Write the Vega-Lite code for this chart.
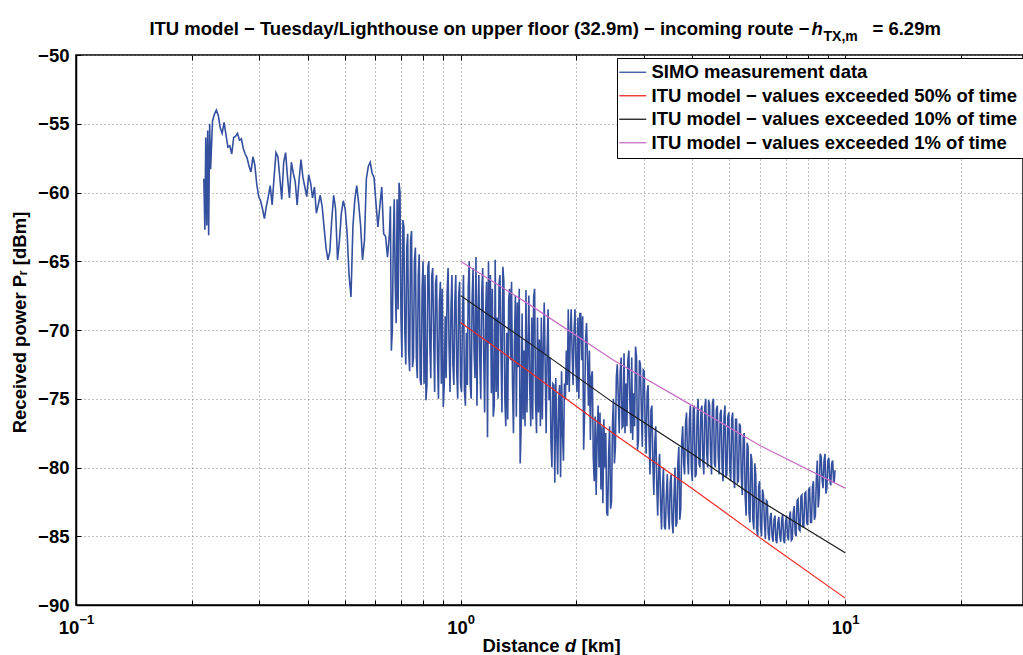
{
  "$schema": "https://vega.github.io/schema/vega-lite/v6.json",
  "width": 947,
  "height": 550,
  "autosize": {"type": "none"},
  "padding": {"left": 76, "top": 55, "right": 0, "bottom": 50},
  "background": "white",
  "config": {
    "view": {"stroke": "black", "strokeWidth": 1.5},
    "font": "Liberation Sans",
    "axis": {
      "labelFont": "Liberation Sans", "titleFont": "Liberation Sans",
      "labelColor": "black", "titleColor": "black",
      "labelFontWeight": "bold", "titleFontWeight": "bold",
      "labelFontSize": 18.5, "titleFontSize": 18.5,
      "domain": false, "ticks": false, "grid": false, "labels": false,
      "labelFlush": false, "labelOverlap": false, "tickColor": "black", "tickWidth": 1
    }
  },
  "datasets": {
    "simo": [
      {"d":0.2150,"P":-59.0},{"d":0.2163,"P":-62.7},{"d":0.2175,"P":-56.0},{"d":0.2188,"P":-62.4},{"d":0.2200,"P":-55.5},{"d":0.2213,"P":-63.1},{"d":0.2226,"P":-55.0},{"d":0.2239,"P":-58.3},
      {"d":0.22646,"P":-54.8},{"d":0.22909,"P":-54.3},{"d":0.23174,"P":-54.0},{"d":0.23442,"P":-54.4},{"d":0.23713,"P":-55.3},{"d":0.23988,"P":-55.7},{"d":0.24266,"P":-54.9},{"d":0.24547,"P":-55.8},{"d":0.24831,"P":-56.7},{"d":0.25119,"P":-56.6},
      {"d":0.25410,"P":-57.2},{"d":0.25704,"P":-56.0},{"d":0.26002,"P":-55.9},{"d":0.26303,"P":-55.7},{"d":0.26608,"P":-56.2},{"d":0.26915,"P":-56.1},{"d":0.27227,"P":-56.8},{"d":0.27542,"P":-57.2},{"d":0.27861,"P":-57.5},{"d":0.28184,"P":-58.1},
      {"d":0.28510,"P":-58.5},{"d":0.28840,"P":-57.4},{"d":0.29174,"P":-58.0},{"d":0.29512,"P":-59.4},{"d":0.29854,"P":-60.3},{"d":0.30200,"P":-60.6},{"d":0.30550,"P":-61.2},{"d":0.30903,"P":-61.9},{"d":0.31261,"P":-61.0},{"d":0.31623,"P":-60.3},
      {"d":0.31989,"P":-59.5},{"d":0.32359,"P":-60.9},{"d":0.32734,"P":-58.9},{"d":0.33113,"P":-57.1},{"d":0.33496,"P":-57.4},{"d":0.33884,"P":-58.9},{"d":0.34276,"P":-60.5},{"d":0.34674,"P":-57.8},{"d":0.35075,"P":-57.1},{"d":0.35481,"P":-58.9},
      {"d":0.35892,"P":-60.4},{"d":0.36308,"P":-57.8},{"d":0.36728,"P":-58.6},{"d":0.37154,"P":-59.2},{"d":0.37584,"P":-60.9},{"d":0.38019,"P":-59.1},{"d":0.38459,"P":-57.6},{"d":0.38905,"P":-58.9},{"d":0.39356,"P":-59.6},{"d":0.39811,"P":-60.3},
      {"d":0.40272,"P":-58.7},{"d":0.40738,"P":-59.3},{"d":0.41210,"P":-60.4},{"d":0.41687,"P":-59.6},{"d":0.42170,"P":-61.5},{"d":0.42658,"P":-60.9},{"d":0.43152,"P":-60.2},{"d":0.43652,"P":-61.0},{"d":0.44157,"P":-62.5},{"d":0.44668,"P":-64.0},
      {"d":0.45185,"P":-64.9},{"d":0.45709,"P":-64.3},{"d":0.46238,"P":-62.0},{"d":0.46774,"P":-60.2},{"d":0.47316,"P":-61.2},{"d":0.47863,"P":-64.9},{"d":0.48417,"P":-63.5},{"d":0.48978,"P":-61.5},{"d":0.49545,"P":-60.6},{"d":0.50119,"P":-61.2},
      {"d":0.50699,"P":-63.0},{"d":0.51286,"P":-66.0},{"d":0.51880,"P":-67.6},{"d":0.52481,"P":-62.5},{"d":0.53089,"P":-60.5},{"d":0.53703,"P":-59.5},{"d":0.54325,"P":-60.8},{"d":0.54954,"P":-62.4},{"d":0.55590,"P":-64.9},{"d":0.56234,"P":-63.5},
      {"d":0.56885,"P":-59.0},{"d":0.57544,"P":-58.1},{"d":0.58210,"P":-57.8},{"d":0.58884,"P":-58.6},{"d":0.59566,"P":-58.9},{"d":0.60256,"P":-60.8},{"d":0.60954,"P":-62.5},{"d":0.61660,"P":-61.0},{"d":0.62374,"P":-59.6},{"d":0.63096,"P":-63.0},
      {"d":0.63827,"P":-63.2},{"d":0.64565,"P":-64.7},{"d":0.65313,"P":-63.0},
      {"d":0.6569,"P":-61.0},{"d":0.66069,"P":-71.5},{"d":0.6645,"P":-70.0},{"d":0.66834,"P":-63.7},{"d":0.6722,"P":-60.5},{"d":0.67608,"P":-66.5},{"d":0.6800,"P":-69.5},{"d":0.68391,"P":-60.5},{"d":0.6879,"P":-68.5},{"d":0.69183,"P":-59.3},{"d":0.6958,"P":-60.0},
      {"d":0.69984,"P":-69.1},{"d":0.7039,"P":-72.0},{"d":0.70795,"P":-62.0},{"d":0.7121,"P":-62.5},{"d":0.71615,"P":-70.2},{"d":0.7203,"P":-72.5},{"d":0.72444,"P":-64.0},{"d":0.7286,"P":-63.0},{"d":0.73283,"P":-71.5},{"d":0.7371,"P":-73.0},
      {"d":0.74131,"P":-63.5},{"d":0.7456,"P":-62.8},{"d":0.74989,"P":-72.7},{"d":0.7542,"P":-72.0},{"d":0.75858,"P":-65.0},{"d":0.7630,"P":-64.0},{"d":0.76736,"P":-72.0},{"d":0.7718,"P":-73.5},{"d":0.77625,"P":-66.0},{"d":0.7807,"P":-64.5},
      {"d":0.78524,"P":-73.6},{"d":0.7898,"P":-74.0},{"d":0.79433,"P":-67.0},{"d":0.7989,"P":-65.0},{"d":0.80353,"P":-73.9},{"d":0.8082,"P":-66.0},{"d":0.81283,"P":-75.1},{"d":0.8175,"P":-74.0},{"d":0.82224,"P":-65.4},{"d":0.8270,"P":-65.0},
      {"d":0.83176,"P":-71.0},{"d":0.8366,"P":-73.5},{"d":0.84139,"P":-66.1},{"d":0.8463,"P":-65.5},{"d":0.85114,"P":-70.5},{"d":0.8561,"P":-74.5},{"d":0.86100,"P":-66.6},{"d":0.8660,"P":-66.0},{"d":0.87096,"P":-72.0},{"d":0.8760,"P":-75.0},
      {"d":0.88105,"P":-68.0},{"d":0.8862,"P":-66.5},{"d":0.89125,"P":-73.9},{"d":0.8964,"P":-67.0},{"d":0.90157,"P":-75.6},{"d":0.9068,"P":-74.0},{"d":0.91201,"P":-69.0},{"d":0.9173,"P":-73.5},{"d":0.92257,"P":-67.3},{"d":0.9279,"P":-65.5},
      {"d":0.93325,"P":-71.0},{"d":0.9387,"P":-74.5},{"d":0.94406,"P":-68.5},{"d":0.9495,"P":-66.0},{"d":0.95499,"P":-72.5},{"d":0.9605,"P":-74.0},{"d":0.96605,"P":-68.0},{"d":0.9716,"P":-66.0},{"d":0.97724,"P":-73.0},{"d":0.9829,"P":-75.0},
      {"d":0.98856,"P":-67.5},{"d":0.9943,"P":-66.5},{"d":1.0,"P":-73.9},{"d":1.0058,"P":-74.5},{"d":1.0116,"P":-69.0},{"d":1.0175,"P":-66.0},{"d":1.0233,"P":-74.4},{"d":1.0293,"P":-75.5},{"d":1.0352,"P":-70.2},{"d":1.0412,"P":-74.0},
      {"d":1.0471,"P":-66.9},{"d":1.0532,"P":-65.0},{"d":1.0592,"P":-73.9},{"d":1.0654,"P":-75.0},{"d":1.0715,"P":-67.8},{"d":1.0777,"P":-65.5},{"d":1.0839,"P":-71.5},{"d":1.0902,"P":-73.5},{"d":1.0965,"P":-64.7},{"d":1.1029,"P":-75.5},
      {"d":1.1092,"P":-69.0},{"d":1.1156,"P":-66.0},{"d":1.1220,"P":-72.2},{"d":1.1285,"P":-75.0},{"d":1.1350,"P":-67.3},{"d":1.1416,"P":-65.5},{"d":1.1482,"P":-71.5},{"d":1.1549,"P":-76.0},{"d":1.1615,"P":-69.0},{"d":1.1682,"P":-66.5},
      {"d":1.1749,"P":-77.8},{"d":1.1817,"P":-65.0},{"d":1.1885,"P":-71.0},{"d":1.1954,"P":-66.0},{"d":1.2023,"P":-74.6},{"d":1.2093,"P":-67.0},{"d":1.2162,"P":-76.3},{"d":1.2233,"P":-75.5},{"d":1.2303,"P":-64.9},{"d":1.2374,"P":-74.5},
      {"d":1.2445,"P":-69.1},{"d":1.2517,"P":-75.0},{"d":1.2589,"P":-66.6},{"d":1.2662,"P":-66.0},{"d":1.2735,"P":-71.5},{"d":1.2809,"P":-76.0},{"d":1.2882,"P":-65.4},{"d":1.2957,"P":-66.5},{"d":1.3031,"P":-74.9},{"d":1.3107,"P":-77.0},
      {"d":1.3183,"P":-70.2},{"d":1.3260,"P":-76.5},{"d":1.3336,"P":-67.8},{"d":1.3413,"P":-67.0},{"d":1.3490,"P":-72.2},{"d":1.3568,"P":-66.5},{"d":1.3646,"P":-73.9},{"d":1.3725,"P":-77.5},{"d":1.3804,"P":-70.9},{"d":1.3884,"P":-67.5},
      {"d":1.3964,"P":-76.3},{"d":1.4045,"P":-68.0},{"d":1.4125,"P":-72.7},{"d":1.4207,"P":-67.0},{"d":1.4289,"P":-79.7},{"d":1.4372,"P":-77.0},{"d":1.4454,"P":-68.8},{"d":1.4538,"P":-76.5},{"d":1.4621,"P":-71.5},{"d":1.4706,"P":-77.0},
      {"d":1.4791,"P":-67.1},{"d":1.4877,"P":-76.0},{"d":1.4962,"P":-71.5},{"d":1.5049,"P":-67.5},{"d":1.5136,"P":-74.4},{"d":1.5224,"P":-77.0},{"d":1.5311,"P":-69.1},{"d":1.5400,"P":-76.5},{"d":1.5488,"P":-67.6},{"d":1.5578,"P":-67.0},
      {"d":1.5667,"P":-75.3},{"d":1.5758,"P":-77.5},{"d":1.5849,"P":-69.1},{"d":1.5941,"P":-76.0},{"d":1.6033,"P":-70.7},{"d":1.6126,"P":-77.0},{"d":1.6218,"P":-69.1},{"d":1.6312,"P":-76.5},{"d":1.6406,"P":-71.5},{"d":1.6501,"P":-68.0},
      {"d":1.6596,"P":-72.7},{"d":1.6692,"P":-77.5},{"d":1.6788,"P":-71.5},{"d":1.6885,"P":-68.5},{"d":1.6982,"P":-75.1},{"d":1.7081,"P":-72.0},{"d":1.7179,"P":-78.2},{"d":1.7279,"P":-80.0},{"d":1.7378,"P":-73.9},{"d":1.7479,"P":-74.0},
      {"d":1.7579,"P":-81.1},{"d":1.7681,"P":-73.5},{"d":1.7783,"P":-77.5},{"d":1.7886,"P":-80.5},{"d":1.7989,"P":-75.1},{"d":1.8093,"P":-74.0},{"d":1.8197,"P":-80.7},{"d":1.8303,"P":-73.0},{"d":1.8408,"P":-77.5},{"d":1.8515,"P":-79.5},
      {"d":1.8621,"P":-73.9},{"d":1.8729,"P":-75.0},{"d":1.8837,"P":-71.5},{"d":1.8946,"P":-74.0},{"d":1.9055,"P":-68.5},{"d":1.9166,"P":-74.5},{"d":1.9276,"P":-70.5},{"d":1.9387,"P":-68.5},{"d":1.9498,"P":-71.5},{"d":1.9611,"P":-74.0},
      {"d":1.9724,"P":-70.2},{"d":1.9839,"P":-68.5},{"d":1.9953,"P":-72.7},{"d":2.0069,"P":-74.5},{"d":2.0184,"P":-69.1},{"d":2.0301,"P":-75.0},{"d":2.0417,"P":-68.8},{"d":2.0535,"P":-68.8},{"d":2.0653,"P":-72.2},{"d":2.0773,"P":-69.0},
      {"d":2.0893,"P":-78.7},{"d":2.1014,"P":-76.0},{"d":2.1135,"P":-70.7},{"d":2.1258,"P":-69.5},{"d":2.1380,"P":-72.2},{"d":2.1504,"P":-75.5},{"d":2.1628,"P":-71.5},{"d":2.1753,"P":-78.0},{"d":2.1878,"P":-73.4},{"d":2.2005,"P":-73.0},
      {"d":2.2131,"P":-79.2},{"d":2.2259,"P":-81.0},{"d":2.2387,"P":-76.3},{"d":2.2518,"P":-82.0},{"d":2.2646,"P":-77.8},{"d":2.2778,"P":-75.5},{"d":2.2909,"P":-80.0},{"d":2.3042,"P":-76.0},{"d":2.3174,"P":-81.6},{"d":2.3308,"P":-77.0},
      {"d":2.3442,"P":-82.6},{"d":2.3578,"P":-76.5},{"d":2.3713,"P":-80.0},{"d":2.3851,"P":-77.5},{"d":2.3988,"P":-83.3},{"d":2.4127,"P":-83.5},{"d":2.4266,"P":-79.0},{"d":2.4407,"P":-77.0},{"d":2.4547,"P":-83.0},{"d":2.4689,"P":-82.5},
      {"d":2.4831,"P":-76.8},{"d":2.4975,"P":-75.0},{"d":2.5119,"P":-79.7},{"d":2.5265,"P":-78.5},{"d":2.5410,"P":-73.4},{"d":2.5557,"P":-72.5},{"d":2.5704,"P":-74.9},{"d":2.5853,"P":-77.5},{"d":2.6002,"P":-73.1},{"d":2.6153,"P":-72.0},
      {"d":2.6303,"P":-77.1},{"d":2.6456,"P":-77.0},{"d":2.6608,"P":-71.7},{"d":2.6762,"P":-77.5},{"d":2.6915,"P":-73.9},{"d":2.7071,"P":-77.0},{"d":2.7227,"P":-72.2},{"d":2.7385,"P":-71.5},{"d":2.7542,"P":-75.1},{"d":2.7702,"P":-77.5},
      {"d":2.7861,"P":-72.0},{"d":2.8023,"P":-78.0},{"d":2.8184,"P":-74.6},{"d":2.8347,"P":-77.0},{"d":2.8510,"P":-71.2},{"d":2.8675,"P":-72.0},{"d":2.8840,"P":-78.7},{"d":2.9007,"P":-78.0},{"d":2.9174,"P":-72.2},{"d":2.9343,"P":-72.5},
      {"d":2.9512,"P":-75.8},{"d":2.9683,"P":-78.5},{"d":2.9854,"P":-72.9},{"d":3.0027,"P":-73.0},{"d":3.0200,"P":-77.1},{"d":3.0375,"P":-79.0},{"d":3.0550,"P":-74.6},{"d":3.0727,"P":-74.0},{"d":3.0903,"P":-77.8},{"d":3.1082,"P":-80.5},
      {"d":3.1261,"P":-75.8},{"d":3.1442,"P":-75.5},{"d":3.1623,"P":-79.7},{"d":3.1806,"P":-82.0},{"d":3.1989,"P":-78.2},{"d":3.2174,"P":-77.0},{"d":3.2359,"P":-81.1},{"d":3.2547,"P":-83.5},{"d":3.2734,"P":-80.2},{"d":3.2924,"P":-79.0},
      {"d":3.3113,"P":-82.6},{"d":3.3305,"P":-84.5},{"d":3.3496,"P":-81.4},{"d":3.3690,"P":-80.0},{"d":3.3884,"P":-84.3},{"d":3.4080,"P":-84.5},{"d":3.4276,"P":-82.1},{"d":3.4475,"P":-80.5},{"d":3.4674,"P":-83.3},{"d":3.4875,"P":-84.5},
      {"d":3.5075,"P":-81.1},{"d":3.5278,"P":-80.5},{"d":3.5481,"P":-84.0},{"d":3.5687,"P":-84.8},{"d":3.5892,"P":-82.1},{"d":3.6100,"P":-80.0},{"d":3.6308,"P":-84.3},{"d":3.6518,"P":-84.0},{"d":3.6728,"P":-79.7},{"d":3.6941,"P":-78.5},
      {"d":3.7154,"P":-83.8},{"d":3.7369,"P":-83.0},{"d":3.7584,"P":-78.2},{"d":3.7802,"P":-77.0},{"d":3.8019,"P":-79.7},{"d":3.8239,"P":-80.5},{"d":3.8459,"P":-76.8},{"d":3.8682,"P":-76.0},{"d":3.8905,"P":-79.2},{"d":3.9131,"P":-80.5},
      {"d":3.9356,"P":-76.5},{"d":3.9584,"P":-75.5},{"d":3.9811,"P":-80.0},{"d":4.0042,"P":-81.0},{"d":4.0272,"P":-75.8},{"d":4.0505,"P":-75.5},{"d":4.0738,"P":-80.7},{"d":4.0974,"P":-80.5},{"d":4.1210,"P":-76.3},{"d":4.1449,"P":-75.0},
      {"d":4.1687,"P":-79.7},{"d":4.1929,"P":-80.0},{"d":4.2170,"P":-75.8},{"d":4.2414,"P":-75.5},{"d":4.2658,"P":-79.5},{"d":4.2905,"P":-80.5},{"d":4.3152,"P":-75.6},{"d":4.3402,"P":-75.0},{"d":4.3652,"P":-79.0},{"d":4.3905,"P":-80.0},
      {"d":4.4157,"P":-75.1},{"d":4.4413,"P":-75.5},{"d":4.4668,"P":-79.0},{"d":4.4927,"P":-80.5},{"d":4.5185,"P":-75.3},{"d":4.5447,"P":-75.0},{"d":4.5709,"P":-79.7},{"d":4.5974,"P":-80.0},{"d":4.6238,"P":-75.8},{"d":4.6506,"P":-75.5},
      {"d":4.6774,"P":-79.2},{"d":4.7045,"P":-80.5},{"d":4.7316,"P":-76.1},{"d":4.7590,"P":-75.8},{"d":4.7863,"P":-80.0},{"d":4.8140,"P":-81.0},{"d":4.8417,"P":-76.3},{"d":4.8698,"P":-75.5},{"d":4.8978,"P":-80.7},{"d":4.9262,"P":-80.5},
      {"d":4.9545,"P":-76.3},{"d":4.9832,"P":-76.0},{"d":5.0119,"P":-80.2},{"d":5.0409,"P":-81.0},{"d":5.0699,"P":-76.5},{"d":5.0993,"P":-76.0},{"d":5.1286,"P":-80.7},{"d":5.1583,"P":-81.5},{"d":5.1880,"P":-76.5},{"d":5.2181,"P":-76.5},
      {"d":5.2481,"P":-81.1},{"d":5.2785,"P":-81.0},{"d":5.3089,"P":-76.8},{"d":5.3396,"P":-77.0},{"d":5.3703,"P":-80.7},{"d":5.4014,"P":-82.0},{"d":5.4325,"P":-77.8},{"d":5.4640,"P":-77.5},{"d":5.4954,"P":-82.1},{"d":5.5272,"P":-83.5},
      {"d":5.5590,"P":-78.2},{"d":5.5912,"P":-78.5},{"d":5.6234,"P":-83.3},{"d":5.6560,"P":-84.0},{"d":5.6885,"P":-79.0},{"d":5.7215,"P":-79.5},{"d":5.7544,"P":-83.8},{"d":5.7877,"P":-84.5},{"d":5.8210,"P":-79.7},{"d":5.8547,"P":-80.5},
      {"d":5.8884,"P":-84.5},{"d":5.9225,"P":-85.0},{"d":5.9566,"P":-81.4},{"d":5.9911,"P":-81.0},{"d":6.0256,"P":-84.3},{"d":6.0605,"P":-85.0},{"d":6.0954,"P":-81.6},{"d":6.1307,"P":-82.0},{"d":6.1660,"P":-84.0},{"d":6.2017,"P":-85.2},
      {"d":6.2374,"P":-82.4},{"d":6.2735,"P":-82.5},{"d":6.3096,"P":-84.8},{"d":6.3462,"P":-85.3},{"d":6.3827,"P":-83.6},{"d":6.4196,"P":-83.3},{"d":6.4565,"P":-85.0},{"d":6.4939,"P":-85.4},{"d":6.5313,"P":-83.8},{"d":6.5691,"P":-83.5},
      {"d":6.6069,"P":-85.3},{"d":6.6452,"P":-85.5},{"d":6.6834,"P":-84.0},{"d":6.7221,"P":-83.6},{"d":6.7608,"P":-85.0},{"d":6.8000,"P":-85.4},{"d":6.8391,"P":-83.8},{"d":6.8787,"P":-83.4},{"d":6.9183,"P":-85.3},{"d":6.9584,"P":-85.5},
      {"d":6.9984,"P":-84.0},{"d":7.0390,"P":-83.5},{"d":7.0795,"P":-85.0},{"d":7.1205,"P":-85.3},{"d":7.1615,"P":-83.6},{"d":7.2030,"P":-83.2},{"d":7.2444,"P":-85.3},{"d":7.2864,"P":-85.2},{"d":7.3283,"P":-83.3},{"d":7.3707,"P":-82.8},
      {"d":7.4131,"P":-84.8},{"d":7.4560,"P":-85.0},{"d":7.4989,"P":-82.4},{"d":7.5424,"P":-82.3},{"d":7.5858,"P":-84.5},{"d":7.6297,"P":-84.6},{"d":7.6736,"P":-82.1},{"d":7.7181,"P":-82.0},{"d":7.7625,"P":-84.3},{"d":7.8075,"P":-84.3},
      {"d":7.8524,"P":-81.9},{"d":7.8979,"P":-81.8},{"d":7.9433,"P":-84.0},{"d":7.9893,"P":-84.2},{"d":8.0353,"P":-81.6},{"d":8.0818,"P":-81.5},{"d":8.1283,"P":-84.0},{"d":8.1754,"P":-84.0},{"d":8.2224,"P":-81.4},{"d":8.2700,"P":-81.0},
      {"d":8.3176,"P":-83.8},{"d":8.3658,"P":-83.5},{"d":8.4139,"P":-80.9},{"d":8.4627,"P":-79.5},{"d":8.5114,"P":-82.9},{"d":8.5607,"P":-82.0},{"d":8.6100,"P":-79.0},{"d":8.6598,"P":-79.2},{"d":8.7096,"P":-80.9},{"d":8.7601,"P":-81.5},
      {"d":8.8105,"P":-79.5},{"d":8.8615,"P":-79.0},{"d":8.9125,"P":-81.9},{"d":8.9641,"P":-81.5},{"d":9.0157,"P":-79.5},{"d":9.0679,"P":-79.3},{"d":9.1201,"P":-80.9},{"d":9.1729,"P":-81.3},{"d":9.2257,"P":-79.7},{"d":9.2791,"P":-79.5},
      {"d":9.3325,"P":-81.1},{"d":9.370,"P":-81.0},{"d":9.408,"P":-80.2}
    ],
    "p50": [{"d":1,"P":-69.45},{"d":1.5,"P":-72.98},{"d":2.5,"P":-77.55},{"d":4,"P":-81.52},{"d":6,"P":-85.1},{"d":10,"P":-89.5}],
    "p10": [{"d":1,"P":-67.5},{"d":1.5,"P":-70.9},{"d":2.5,"P":-75.3},{"d":4,"P":-79.0},{"d":6,"P":-82.4},{"d":10,"P":-86.2}],
    "p1": [{"d":1,"P":-65.0},{"d":1.5,"P":-68.1},{"d":2.5,"P":-72.2},{"d":4,"P":-75.5},{"d":6,"P":-78.4},{"d":10,"P":-81.5}]
  },
  "layer": [
    {
      "data": {"name": "simo"},
      "mark": {"type": "line", "strokeWidth": 1.6, "clip": true},
      "encoding": {
        "x": {
          "field": "d", "type": "quantitative",
          "scale": {"type": "log", "domain": [0.1, 29], "nice": false},
          "axis": {
            "orient": "bottom", "labels": true, "grid": true,
            "gridColor": "#808080", "gridDash": [1, 3], "gridWidth": 1,
            "domain": true, "domainColor": "black", "domainWidth": 1.5,
            "values": [0.1,0.2,0.3,0.4,0.5,0.6,0.7,0.8,0.9,1,2,3,4,5,6,7,8,9,10,20],
            "labelExpr": "(datum.value == 0.1 || datum.value == 1 || datum.value == 10) ? '10' : ''",
            "labelAlign": "center", "labelBaseline": "alphabetic", "labelPadding": 28.6,
            "labelOffset": {"condition": {"test": "datum.value < 0.5", "value": -7.4}, "value": -3.6},
            "title": "Distance", "titleX": 406, "titleY": 46, "titleAlign": "left", "titleBaseline": "alphabetic"
          }
        },
        "y": {
          "field": "P", "type": "quantitative",
          "scale": {"domain": [-90, -50], "nice": false, "zero": false},
          "axis": {
            "orient": "left", "labels": true, "grid": true,
            "gridColor": "#808080", "gridDash": [1, 3], "gridWidth": 1,
            "domain": true, "domainColor": "black", "domainWidth": 1.5,
            "values": [-90,-85,-80,-75,-70,-65,-60,-55,-50], "format": "d",
            "labelPadding": 7, "labelAlign": "right", "labelBaseline": "middle",
            "title": "Received power Pᵣ [dBm]", "titleX": -51, "titleY": 267, "titleAngle": -90,
            "titleAlign": "center", "titleBaseline": "alphabetic"
          }
        },
        "color": {
          "datum": "SIMO measurement data", "type": "nominal",
          "scale": {
            "domain": ["SIMO measurement data", "ITU model − values exceeded 50% of time", "ITU model − values exceeded 10% of time", "ITU model − values exceeded 1% of time"],
            "range": ["#34509f", "#ee2a24", "#1a1a1a", "#c76cc5"]
          },
          "legend": {
            "orient": "none", "legendX": 541, "legendY": 3, "title": null,
            "fillColor": "white", "strokeColor": "black", "padding": 5, "cornerRadius": 0,
            "symbolType": "M-3,0H3.75", "symbolSize": 64, "symbolStrokeWidth": 1.3,
            "labelOffset": 11, "labelFont": "Liberation Sans", "labelFontSize": 18.5,
            "labelFontWeight": "bold", "labelColor": "black", "labelLimit": 600, "rowPadding": 4.5
          }
        }
      }
    },
    {
      "data": {"name": "p50"},
      "mark": {"type": "line", "strokeWidth": 1.2},
      "encoding": {
        "x": {
          "field": "d", "type": "quantitative",
          "axis": {
            "orient": "bottom", "labels": true, "values": [0.1, 1, 10],
            "labelExpr": "datum.value == 0.1 ? '−1' : (datum.value == 1 ? '0' : '1')",
            "labelFontSize": 13, "labelAlign": "center", "labelBaseline": "alphabetic",
            "labelPadding": 18, "labelOffset": 10.3,
            "title": "[km]", "titleX": 505, "titleY": 46, "titleAlign": "left", "titleBaseline": "alphabetic"
          }
        },
        "y": {
          "field": "P", "type": "quantitative",
          "axis": {
            "orient": "left", "ticks": true, "tickSize": -5,
            "values": [-90,-85,-80,-75,-70,-65,-60,-55,-50],
            "title": "d", "titleFontStyle": "italic", "titleX": 488.3, "titleY": 596, "titleAngle": 0,
            "titleAlign": "left", "titleBaseline": "alphabetic"
          }
        },
        "color": {"datum": "ITU model − values exceeded 50% of time", "type": "nominal"}
      }
    },
    {
      "data": {"name": "p10"},
      "mark": {"type": "line", "strokeWidth": 1.2},
      "encoding": {
        "x": {
          "field": "d", "type": "quantitative",
          "axis": {
            "orient": "top", "ticks": true, "tickSize": -5,
            "values": [0.1,0.2,0.3,0.4,0.5,0.6,0.7,0.8,0.9,1,2,3,4,5,6,7,8,9,10,20],
            "title": "ITU model − Tuesday/Lighthouse on upper floor (32.9m) − incoming route −",
            "titleX": 733, "titleY": -21, "titleAlign": "right", "titleBaseline": "alphabetic"
          }
        },
        "y": {
          "field": "P", "type": "quantitative",
          "axis": {
            "orient": "left", "title": "h", "titleFontStyle": "italic",
            "titleX": 735, "titleY": -21, "titleAngle": 0, "titleAlign": "left", "titleBaseline": "alphabetic"
          }
        },
        "color": {"datum": "ITU model − values exceeded 10% of time", "type": "nominal"}
      }
    },
    {
      "data": {"name": "p1"},
      "mark": {"type": "line", "strokeWidth": 1.2},
      "encoding": {
        "x": {
          "field": "d", "type": "quantitative",
          "axis": {
            "orient": "bottom", "ticks": true, "tickSize": -5,
            "values": [0.1,0.2,0.3,0.4,0.5,0.6,0.7,0.8,0.9,1,2,3,4,5,6,7,8,9,10,20],
            "title": "= 6.29m", "titleX": 796, "titleY": -571, "titleAlign": "left", "titleBaseline": "alphabetic"
          }
        },
        "y": {
          "field": "P", "type": "quantitative",
          "axis": {
            "orient": "left", "title": "TX,m", "titleFontSize": 14,
            "titleX": 747, "titleY": -15, "titleAngle": 0, "titleAlign": "left", "titleBaseline": "alphabetic"
          }
        },
        "color": {"datum": "ITU model − values exceeded 1% of time", "type": "nominal"}
      }
    }
  ],
  "resolve": {
    "scale": {"x": "shared", "y": "shared", "color": "shared"},
    "axis": {"x": "independent", "y": "independent"}
  }
}
